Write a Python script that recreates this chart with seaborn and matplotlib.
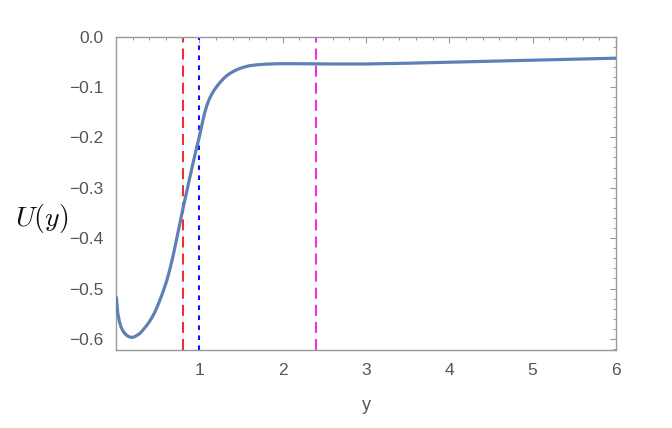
import numpy as np
import pandas as pd
import seaborn as sns
import matplotlib.pyplot as plt
from matplotlib.ticker import MultipleLocator, FixedLocator

# values
y_pos = [0.005, 0.02, 0.04, 0.06, 0.08, 0.10, 0.13, 0.16, 0.19, 0.22,
         0.25, 0.28, 0.31, 0.34, 0.37, 0.40, 0.43, 0.46, 0.49, 0.52,
         0.55, 0.58, 0.61, 0.64, 0.67, 0.70, 0.73, 0.76, 0.79, 0.82,
         0.85, 0.88, 0.91, 0.94, 0.97, 1.00, 1.03, 1.06, 1.09, 1.12,
         1.15, 1.18, 1.22, 1.26, 1.30, 1.35, 1.40, 1.46, 1.53, 1.60,
         1.70, 1.80, 1.95, 2.20, 2.60, 3.00, 3.50, 4.00, 4.50, 5.00,
         5.50, 6.00]
u_vals = [-0.518, -0.547, -0.565, -0.576, -0.583, -0.588, -0.593, -0.596, -0.597, -0.596,
          -0.593, -0.590, -0.585, -0.579, -0.573, -0.566, -0.558, -0.549, -0.538, -0.526,
          -0.513, -0.499, -0.484, -0.466, -0.446, -0.424, -0.400, -0.376, -0.352, -0.329,
          -0.307, -0.284, -0.262, -0.240, -0.219, -0.199, -0.176, -0.154, -0.137, -0.124,
          -0.114, -0.106, -0.097, -0.089, -0.082, -0.075, -0.070, -0.065, -0.061, -0.058,
          -0.056, -0.0548, -0.0540, -0.0540, -0.0545, -0.0545, -0.053, -0.051, -0.049, -0.047,
          -0.045, -0.043]

# vertical reference lines
red_x = 0.8
blue_x = 1.0
magenta_x = 2.4

x_ticks = [1, 2, 3, 4, 5, 6]
y_ticks = [0.0, -0.1, -0.2, -0.3, -0.4, -0.5, -0.6]

df = pd.DataFrame({"y": y_pos, "U": u_vals})

sns.set_style("white")
plt.rcParams['font.family'] = ['Liberation Sans', 'DejaVu Sans']
plt.rcParams['mathtext.fontset'] = 'cm'

fig = plt.figure(figsize=(6.72, 4.28), dpi=100)
ax = fig.add_axes([0.1726, 0.1822, 0.744, 0.7325])

sns.lineplot(data=df, x="y", y="U", ax=ax, color="#5e81b5", linewidth=2.3, zorder=3)

ax.axvline(red_x, color="#ee3030", linewidth=1.5, linestyle=(0, (5.3, 2.9)), zorder=2)
ax.axvline(blue_x, color="#1010ff", linewidth=1.5, linestyle=(0, (2.2, 2.6)), zorder=2)
ax.axvline(magenta_x, color="#ee30ee", linewidth=1.5, linestyle=(0, (5.3, 2.9)), zorder=2)

ax.set_xlim(0, 6)
ax.set_ylim(-0.622, 0.0)

ax.xaxis.set_major_locator(FixedLocator(x_ticks))
ax.xaxis.set_minor_locator(MultipleLocator(0.2))
ax.yaxis.set_major_locator(FixedLocator(y_ticks))
ax.yaxis.set_minor_locator(MultipleLocator(0.02))
ax.set_yticklabels([f"{v:.1f}".replace("-", "\u2212") for v in y_ticks])
ax.set_xticklabels([str(v) for v in x_ticks])

ax.tick_params(which="both", direction="in", top=True, right=True, color="#999999",
               labelcolor="#555555", labelsize=12.5, pad=9)
ax.tick_params(which="major", length=4, width=0.8)
ax.tick_params(which="minor", length=2.5, width=0.7)

for s in ax.spines.values():
    s.set_color("#999999")
    s.set_linewidth(1.0)

ax.set_xlabel("y", color="#555555", fontsize=13, labelpad=14)
ax.set_ylabel(r"$U(y)$", fontsize=20, rotation=0, color="#111111", va="center", ha="center")
ax.yaxis.set_label_coords(-0.148, 0.42)

fig.savefig("out.png", dpi=100)
